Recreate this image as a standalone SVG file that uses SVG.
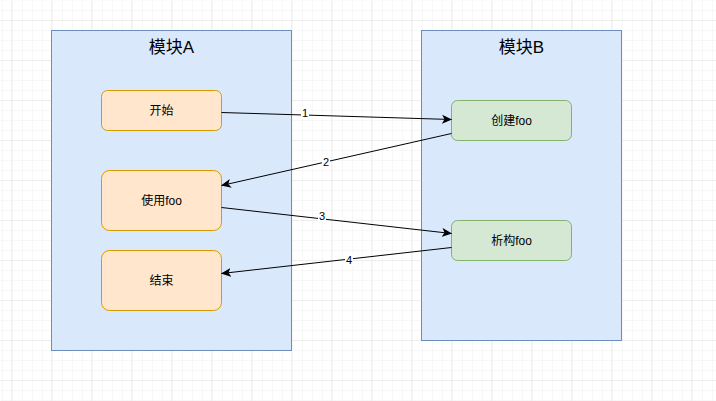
<svg xmlns="http://www.w3.org/2000/svg" width="716" height="401" viewBox="0 0 716 401">
<defs>
<pattern id="minor" width="10" height="10" patternUnits="userSpaceOnUse" x="1" y="0">
<path d="M10 0 L0 0 0 10" fill="none" stroke="#f0f0f0" stroke-width="1"/>
</pattern>
<pattern id="major" width="40" height="40" patternUnits="userSpaceOnUse" x="11" y="20">
<rect width="40" height="40" fill="url(#minor)"/>
<path d="M40 0 L0 0 0 40" fill="none" stroke="#e4e4e4" stroke-width="1"/>
</pattern>
<marker id="arr" viewBox="0 0 10 10" refX="9.5" refY="5" markerWidth="10" markerHeight="10" markerUnits="userSpaceOnUse" orient="auto">
<path d="M0 0.5 L10 5 L0 9.5 L2.5 5 Z" fill="#000"/>
</marker>
<style>
.cont{fill:#dae8fc;stroke:#6c8ebf;stroke-width:1}
.orange{fill:#ffe6cc;stroke:#d79b00;stroke-width:1}
.green{fill:#d5e8d4;stroke:#82b366;stroke-width:1}
.t{font-family:"Liberation Sans","Noto Sans CJK SC",sans-serif;fill:#000;text-anchor:middle}
.title{font-size:17px}
.lbl{font-size:12px}
.el{font-size:11px}
.edge{stroke:#000;stroke-width:1;fill:none;marker-end:url(#arr)}
</style>
</defs>
<rect width="716" height="401" fill="#fff"/>
<rect x="0.5" y="0.5" width="716" height="401" fill="url(#major)"/>
<g id="moduleA">
<rect class="cont" x="51.5" y="30.5" width="240" height="320"/>
<text class="t title" x="171.5" y="53">模块A</text>
</g>
<g id="moduleB">
<rect class="cont" x="421.5" y="30.5" width="200" height="310"/>
<text class="t title" x="521.5" y="53">模块B</text>
</g>
<g id="start">
<rect class="orange" x="101.5" y="90.5" width="120" height="40" rx="6"/>
<text class="t lbl" x="161.5" y="114.5">开始</text>
</g>
<g id="usefoo">
<rect class="orange" x="101.5" y="170.5" width="120" height="60" rx="8"/>
<text class="t lbl" x="161.5" y="204.5">使用foo</text>
</g>
<g id="end">
<rect class="orange" x="101.5" y="250.5" width="120" height="60" rx="8"/>
<text class="t lbl" x="161.5" y="284.5">结束</text>
</g>
<g id="createfoo">
<rect class="green" x="451.5" y="100.5" width="120" height="40" rx="6"/>
<text class="t lbl" x="511.5" y="124.5">创建foo</text>
</g>
<g id="destroyfoo">
<rect class="green" x="451.5" y="220.5" width="120" height="40" rx="6"/>
<text class="t lbl" x="511.5" y="244.5">析构foo</text>
</g>
<g id="connectors">
<line class="edge" x1="221.5" y1="112.5" x2="451.5" y2="119.5"/>
<line class="edge" x1="451.5" y1="133.5" x2="221.5" y2="185.5"/>
<line class="edge" x1="221.5" y1="207.5" x2="451.5" y2="233.5"/>
<line class="edge" x1="451.5" y1="247.5" x2="221.5" y2="273.5"/>
<rect x="301" y="107" width="8" height="12" fill="#fff"/>
<text class="t el" x="305" y="117">1</text>
<rect x="322" y="156" width="8" height="12" fill="#fff"/>
<text class="t el" x="326" y="166">2</text>
<rect x="318" y="210" width="8" height="12" fill="#fff"/>
<text class="t el" x="322" y="220">3</text>
<rect x="345" y="254" width="8" height="12" fill="#fff"/>
<text class="t el" x="349" y="264">4</text>
</g>
</svg>
